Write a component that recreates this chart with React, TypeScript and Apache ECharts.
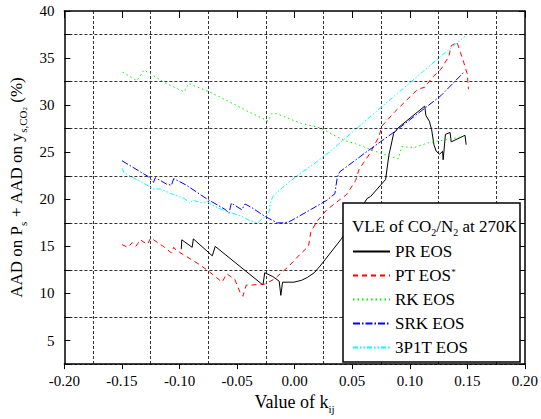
import React, { useEffect, useRef } from "react";
import * as echarts from "echarts";

// k_ij vs. AAD (%) for each equation of state
const prEos: [number, number][] = [
  [-0.0985, 14.7], [-0.098, 15.7], [-0.089, 14.9], [-0.088, 15.8], [-0.0715, 14.0], [-0.069, 15.0],
  [-0.0275, 10.9], [-0.026, 12.2], [-0.019, 11.8], [-0.0134, 11.3], [-0.012, 9.8], [-0.0105, 11.2],
  [-0.0006, 11.2], [0.006, 11.4], [0.011, 11.7], [0.017, 12.2], [0.022, 12.9], [0.031, 14.3],
  [0.0406, 15.8], [0.063, 20.1], [0.066, 20.3], [0.079, 22.1], [0.080, 23.0], [0.082, 24.8],
  [0.083, 25.3], [0.086, 27.0], [0.090, 27.6], [0.107, 29.3], [0.113, 29.9], [0.114, 28.9],
  [0.117, 28.3], [0.119, 27.4], [0.121, 25.8], [0.123, 25.1], [0.126, 24.8], [0.1285, 25.1],
  [0.129, 24.2], [0.131, 26.9], [0.135, 27.1], [0.136, 26.1], [0.148, 26.8], [0.149, 25.8],
];

const ptEos: [number, number][] = [
  [-0.150, 15.2], [-0.145, 14.9], [-0.141, 15.4], [-0.138, 15.0], [-0.134, 15.7], [-0.128, 15.2],
  [-0.125, 15.9], [-0.114, 15.0], [-0.107, 14.3], [-0.105, 14.9], [-0.103, 14.6], [-0.083, 13.1],
  [-0.074, 12.3], [-0.063, 11.2], [-0.059, 12.1], [-0.052, 11.5], [-0.047, 10.0], [-0.045, 9.7],
  [-0.042, 10.9], [-0.037, 10.9], [-0.026, 11.0], [-0.018, 11.5], [-0.005, 12.9], [0.005, 14.2],
  [0.012, 15.0], [0.014, 16.5], [0.019, 17.6], [0.028, 18.9], [0.045, 20.5], [0.053, 22.0],
  [0.056, 23.2], [0.065, 24.8], [0.073, 26.6], [0.076, 27.8], [0.087, 29.3], [0.107, 31.7],
  [0.113, 31.9], [0.120, 33.0], [0.127, 33.8], [0.134, 35.2], [0.136, 36.3], [0.141, 36.7],
  [0.144, 35.6], [0.147, 34.5], [0.150, 33.3], [0.151, 31.7],
];

const rkEos: [number, number][] = [
  [-0.1495, 33.5], [-0.137, 32.6], [-0.131, 33.7], [-0.126, 33.4], [-0.113, 32.4], [-0.096, 31.4],
  [-0.092, 32.3], [-0.072, 31.3], [-0.040, 29.3], [-0.023, 28.3], [-0.020, 29.1], [-0.016, 29.1],
  [0.005, 28.1], [0.022, 27.6], [0.042, 26.3], [0.053, 25.9], [0.070, 25.1], [0.082, 24.6],
  [0.090, 24.3], [0.093, 25.6], [0.104, 25.5], [0.116, 26.0], [0.130, 26.3], [0.148, 26.7],
];

const srkEos: [number, number][] = [
  [-0.150, 24.1], [-0.127, 22.4], [-0.1226, 21.8], [-0.121, 22.3], [-0.111, 21.6], [-0.107, 21.5],
  [-0.105, 22.2], [-0.094, 21.5], [-0.077, 20.1], [-0.060, 18.9], [-0.057, 18.5], [-0.055, 19.6],
  [-0.046, 18.9], [-0.043, 19.5], [-0.037, 19.1], [-0.026, 18.2], [-0.015, 17.5], [-0.010, 17.5],
  [-0.005, 17.6], [0.011, 18.7], [0.028, 19.9], [0.035, 20.6], [0.036, 21.5], [0.037, 22.3],
  [0.039, 22.9], [0.062, 25.0], [0.087, 27.2], [0.107, 29.1], [0.127, 31.0], [0.147, 33.5],
];

const p3p1tEos: [number, number][] = [
  [-0.150, 23.3], [-0.148, 22.8], [-0.125, 21.3], [-0.124, 21.1], [-0.117, 21.1], [-0.107, 20.6],
  [-0.096, 20.1], [-0.091, 19.6], [-0.0885, 19.9], [-0.080, 19.6], [-0.076, 19.8], [-0.072, 19.4],
  [-0.063, 18.9], [-0.046, 18.2], [-0.040, 17.8], [-0.032, 17.5], [-0.0275, 18.0], [-0.025, 18.2],
  [-0.022, 18.7], [-0.021, 19.6], [-0.019, 20.3], [-0.012, 21.1], [0.002, 22.5], [0.016, 23.7],
  [0.033, 25.3], [0.062, 28.4], [0.085, 30.8], [0.107, 33.1], [0.127, 35.2], [0.148, 37.3],
];

const seriesNames = ["PR EOS", "PT EOS", "RK EOS", "SRK EOS", "3P1T EOS"];
const seriesColors = ["#000000", "#ff0000", "#00ee00", "#0000ff", "#00ffff"];

const FONT = "Liberation Serif";

// serif face for every text node of the chart's SVG
const serifCss = "#kij-chart text, #kij-chart tspan { font-family: 'Liberation Serif', serif !important; }";

export default function App() {
  const ref = useRef<HTMLDivElement>(null);

  useEffect(() => {
    const el = ref.current;
    if (!el) return;
    const chart = echarts.init(el, undefined, { renderer: "svg" });

    const gridDash = { color: "#333", width: 1, type: [3, 2] as number[] };
    const frameLine = { show: true, onZero: false, lineStyle: { color: "#000", width: 1.5 } };
    const tickText = { fontFamily: FONT, fontSize: 15, color: "#000" };

    const mkLine = (name: string, data: [number, number][], color: string, dash: any) => ({
      name,
      type: "line",
      data,
      showSymbol: false,
      symbol: "none",
      xAxisIndex: 0,
      yAxisIndex: 0,
      lineStyle: { color, width: 1, type: dash },
      itemStyle: { color },
    });

    chart.setOption({
      animation: false,
      backgroundColor: "#fff",
      textStyle: { fontFamily: FONT },
      grid: { left: 59, right: 12, top: 11, bottom: 49, containLabel: false },
      xAxis: [
        {
          type: "value",
          min: -0.2,
          max: 0.2,
          interval: 0.05,
          position: "bottom",
          axisLine: frameLine,
          axisTick: { show: true, inside: false, length: 5, lineStyle: { color: "#000", width: 1 } },
          minorTick: { show: false, splitNumber: 2 },
          splitLine: { show: false },
          minorSplitLine: { show: true, lineStyle: gridDash },
          axisLabel: {
            ...tickText,
            margin: 9,
            formatter: (v: number) => v.toFixed(2),
          },
          name: "{m|Value of k}{s|ij}",
          nameLocation: "middle",
          nameGap: 22,
          nameTextStyle: {
            color: "#000",
            fontFamily: FONT,
            rich: {
              m: { fontSize: 18, lineHeight: 24, verticalAlign: "middle", fontFamily: FONT, color: "#000" },
              s: { fontSize: 11, lineHeight: 11, verticalAlign: "bottom", fontFamily: FONT, color: "#000" },
            },
          },
        },
        {
          type: "value",
          min: -0.2,
          max: 0.2,
          interval: 0.05,
          position: "top",
          axisLine: frameLine,
          axisTick: { show: true, inside: true, length: 7, lineStyle: { color: "#000", width: 1 } },
          axisLabel: { show: false },
          splitLine: { show: false },
        },
      ],
      yAxis: [
        {
          type: "value",
          min: 2.5,
          max: 40,
          interval: 2.5,
          position: "left",
          axisLine: frameLine,
          axisTick: { show: true, inside: true, length: 6, lineStyle: { color: "#000", width: 1 } },
          splitLine: {
            show: true,
            lineStyle: { ...gridDash, color: ["#333", "rgba(0,0,0,0)"] },
          },
          axisLabel: {
            ...tickText,
            margin: 10,
            formatter: (v: number) => (v % 5 === 0 ? String(v) : ""),
          },
          name: "{m|AAD on P}{s|s}{m| + AAD on y}{s|s,CO}{ss|2}{m| (%)}",
          nameLocation: "middle",
          nameGap: 29,
          nameTextStyle: {
            color: "#000",
            fontFamily: FONT,
            rich: {
              m: { fontSize: 17, lineHeight: 24, verticalAlign: "middle", fontFamily: FONT, color: "#000" },
              s: { fontSize: 11, lineHeight: 11, verticalAlign: "bottom", fontFamily: FONT, color: "#000" },
              ss: { fontSize: 7, lineHeight: 6, verticalAlign: "bottom", fontFamily: FONT, color: "#000" },
            },
          },
        },
        {
          type: "value",
          min: 2.5,
          max: 40,
          interval: 2.5,
          position: "right",
          axisLine: frameLine,
          axisTick: { show: true, inside: true, length: 6, lineStyle: { color: "#000", width: 1 } },
          axisLabel: { show: false },
          splitLine: { show: false },
        },
      ],
      legend: {
        orient: "vertical",
        left: 352,
        top: 243,
        padding: 0,
        itemWidth: 37,
        itemHeight: 14,
        itemGap: 7,
        z: 10,
        data: seriesNames,
        itemStyle: { color: "rgba(0,0,0,0)", borderWidth: 0, opacity: 0 },
        formatter: (name: string) => (name === "PT EOS" ? "{n|PT EOS}{sup|*}" : "{n|" + name + "}"),
        textStyle: {
          color: "#000",
          fontFamily: FONT,
          fontSize: 17,
          rich: {
            n: { fontSize: 17, lineHeight: 17, fontFamily: FONT, color: "#000" },
            sup: { fontSize: 9, lineHeight: 6, verticalAlign: "top", fontFamily: FONT, color: "#000" },
          },
        },
      },
      graphic: [
        {
          type: "rect",
          z: 5,
          shape: { x: 343, y: 203, width: 177, height: 159 },
          style: { fill: "#fff", stroke: "#000", lineWidth: 1.5 },
        },
        {
          type: "text",
          z: 11,
          x: 352,
          y: 226,
          style: {
            text: "{m|VLE of CO}{s|2}{m|/N}{s|2}{m| at 270K}",
            verticalAlign: "middle",
            fill: "#000",
            fontFamily: FONT,
            rich: {
              m: { fontSize: 17, lineHeight: 22, verticalAlign: "middle", fontFamily: FONT, fill: "#000" },
              s: { fontSize: 10, lineHeight: 10, verticalAlign: "bottom", fontFamily: FONT, fill: "#000" },
            },
          },
        },
      ],
      series: [
        mkLine(seriesNames[0], prEos, seriesColors[0], "solid"),
        mkLine(seriesNames[1], ptEos, seriesColors[1], [5, 4]),
        mkLine(seriesNames[2], rkEos, seriesColors[2], [1.5, 3]),
        mkLine(seriesNames[3], srkEos, seriesColors[3], [7, 2, 1.5, 2]),
        mkLine(seriesNames[4], p3p1tEos, seriesColors[4], [5, 2, 1.5, 2, 1.5, 2]),
      ],
    });

    return () => chart.dispose();
  }, []);

  return (
    <>
      <style>{serifCss}</style>
      <div id="kij-chart" ref={ref} style={{ position: "fixed", left: 0, top: 0, width: 541, height: 419 }} />
    </>
  );
}
